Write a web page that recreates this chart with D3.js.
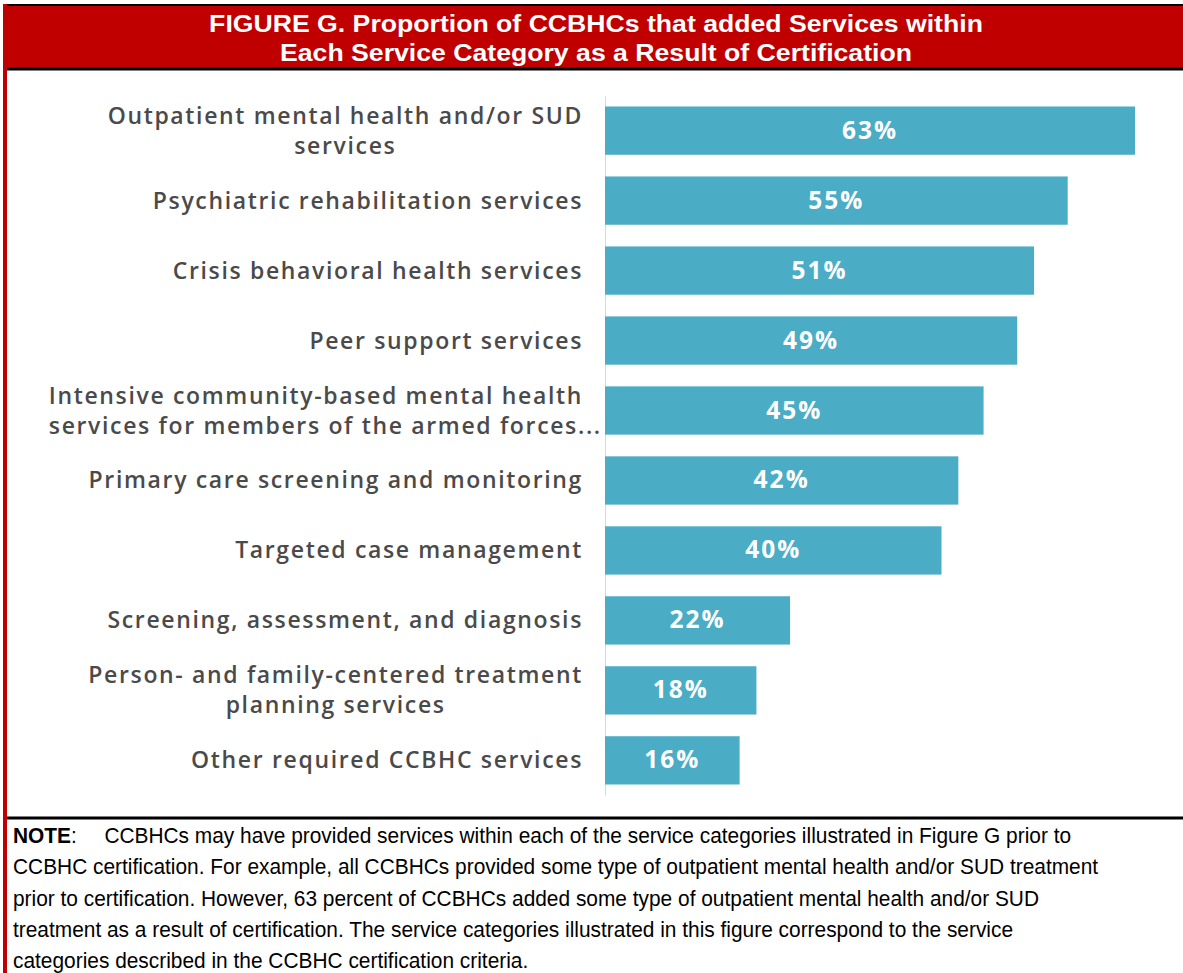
<!DOCTYPE html>
<html>
<head>
<meta charset="utf-8">
<script src="https://cdn.jsdelivr.net/npm/d3@7"></script>
<style>
  body { margin: 0; background: #fff; }
  svg { display: block; }
</style>
</head>
<body>
<div id="chart"></div>
<script>
// chart data
var categories = [
  ["Outpatient mental health and/or SUD", "services"],
  ["Psychiatric rehabilitation services"],
  ["Crisis behavioral health services"],
  ["Peer support services"],
  ["Intensive community-based mental health", "services for members of the armed forces..."],
  ["Primary care screening and monitoring"],
  ["Targeted case management"],
  ["Screening, assessment, and diagnosis"],
  ["Person- and family-centered treatment", "planning services"],
  ["Other required CCBHC services"]
];
var values = [63, 55, 51, 49, 45, 42, 40, 22, 18, 16];
var titleLines = [
  "FIGURE G. Proportion of CCBHCs that added Services within",
  "Each Service Category as a Result of Certification"
];
var noteLines = [
  "CCBHCs may have provided services within each of the service categories illustrated in Figure G prior to",
  "CCBHC certification. For example, all CCBHCs provided some type of outpatient mental health and/or SUD treatment",
  "prior to certification. However, 63 percent of CCBHCs added some type of outpatient mental health and/or SUD",
  "treatment as a result of certification. The service categories illustrated in this figure correspond to the service",
  "categories described in the CCBHC certification criteria."
];

var width = 1183, height = 973;
var barColor = "#4bacc6";
var sans = "'Liberation Sans', Arial, sans-serif";

var svg = d3.select("#chart").append("svg")
    .attr("width", width)
    .attr("height", height);

// header band
svg.append("rect")
    .attr("x", 5).attr("y", 4)
    .attr("width", width - 5).attr("height", 65)
    .attr("fill", "#c00000");
svg.append("line")
    .attr("x1", 3).attr("x2", width).attr("y1", 5).attr("y2", 5)
    .attr("stroke", "#000").attr("stroke-width", 2);
svg.append("line")
    .attr("x1", 3).attr("x2", width).attr("y1", 69).attr("y2", 69)
    .attr("stroke", "#000").attr("stroke-width", 3);

// left red border
svg.append("rect")
    .attr("x", 3).attr("y", 4)
    .attr("width", 4).attr("height", height - 4)
    .attr("fill", "#c00000");

// title (condensed look, stretched to match)
svg.append("g").selectAll("text")
    .data(titleLines)
    .enter().append("text")
    .attr("transform", function(d, i) { return "translate(596," + (32 + i * 29) + ") scale(1.11,1)"; })
    .attr("text-anchor", "middle")
    .attr("fill", "#fff")
    .attr("font-family", sans)
    .attr("font-weight", "bold")
    .attr("font-size", 24)
    .text(function(d) { return d; });

// scales
var x = d3.scaleLinear()
    .domain([0, 63])
    .range([605, 1135]);

var y = d3.scaleBand()
    .domain(d3.range(values.length))
    .range([96, 795])
    .paddingInner(0.31)
    .paddingOuter(0.15);

// axis line
svg.append("g")
    .attr("transform", "translate(605,0)")
    .call(d3.axisLeft(y).tickSize(0).tickFormat(""))
    .call(function(g) { g.select(".domain").attr("stroke", "#d9d9d9").attr("stroke-width", 1); });

// bars
svg.append("g").selectAll("rect")
    .data(values)
    .enter().append("rect")
    .attr("x", x(0))
    .attr("y", function(d, i) { return y(i); })
    .attr("width", function(d) { return x(d) - x(0); })
    .attr("height", y.bandwidth())
    .attr("fill", barColor);

// value labels
svg.append("g").selectAll("text")
    .data(values)
    .enter().append("text")
    .attr("x", function(d) { return (x(0) + x(d)) / 2; })
    .attr("y", function(d, i) { return y(i) + y.bandwidth() / 2 + 8; })
    .attr("text-anchor", "middle")
    .attr("fill", "#fff")
    .attr("font-family", "'Open Sans', sans-serif")
    .attr("font-weight", "bold")
    .attr("font-size", 24.5)
    .attr("letter-spacing", 2)
    .text(function(d) { return d + "%"; });

// category labels
var labelGroups = svg.append("g").selectAll("text")
    .data(categories)
    .enter().append("text")
    .attr("fill", "#4a4a4a")
    .attr("font-family", "'Open Sans', sans-serif")
    .attr("font-weight", 600)
    .attr("font-size", 23)
    .attr("letter-spacing", 1.65);

labelGroups.each(function(lines, i) {
    var cy = y(i) + y.bandwidth() / 2;
    var t = d3.select(this);
    var first = t.append("tspan")
        .attr("y", cy + 8 - (lines.length - 1) * 15)
        .text(lines[0]);
    var w = first.node().getComputedTextLength();
    var x0 = 583 - w;
    first.attr("x", x0);
    for (var j = 1; j < lines.length; j++) {
        var sub = t.append("tspan")
            .attr("y", cy + 8 - (lines.length - 1) * 15 + j * 30)
            .text(lines[j]);
        // short second lines are centered under the first line, long ones overflow to the right
        var w2 = sub.node().getComputedTextLength();
        sub.attr("x", w2 > w ? x0 : x0 + (w - w2) / 2);
    }
});

// note separator
svg.append("line")
    .attr("x1", 7).attr("x2", width).attr("y1", 818).attr("y2", 818)
    .attr("stroke", "#000").attr("stroke-width", 3);

// note text
var note = svg.append("g")
    .attr("font-family", sans)
    .attr("font-size", 22)
    .attr("fill", "#000")
    .attr("transform", "translate(13,0) scale(0.95,1)");

noteLines.forEach(function(line, i) {
    var t = note.append("text")
        .attr("x", 0)
        .attr("y", 843 + i * 31.3);
    if (i === 0) {
        t.append("tspan").attr("font-weight", "bold").text("NOTE");
        t.append("tspan").text(":");
        t.append("tspan").attr("dx", 29).text(line);
    } else {
        t.text(line);
    }
});
</script>
</body>
</html>
